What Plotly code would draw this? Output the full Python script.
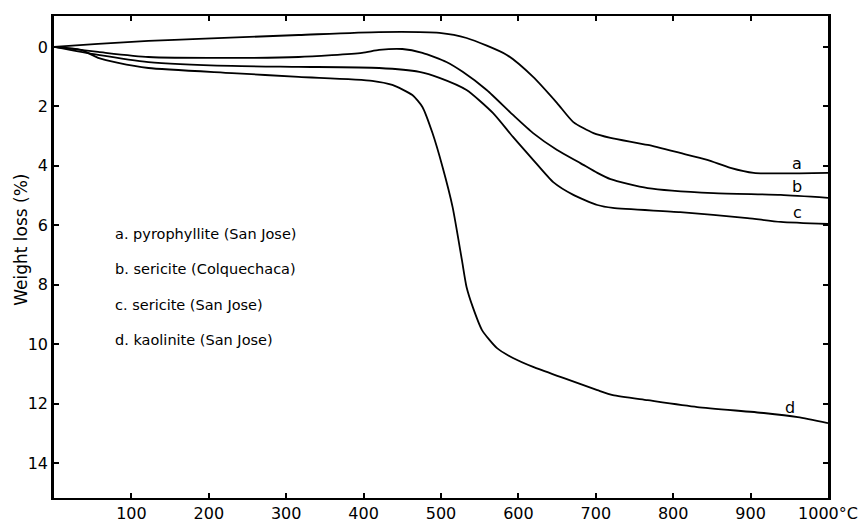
import plotly.graph_objects as go

# Thermogravimetric curves: temperature (°C) vs. weight loss (%)
temp_a = [0, 57, 122, 187, 316, 420, 498, 533, 585, 619, 650, 671, 697, 719, 767, 809, 844, 874, 904, 1000]
loss_a = [0, -0.10, -0.20, -0.27, -0.40, -0.50, -0.47, -0.30, 0.27, 1.01, 1.89, 2.53, 2.90, 3.06, 3.30, 3.57, 3.80, 4.07, 4.24, 4.24]

temp_b = [0, 57, 122, 230, 316, 398, 420, 450, 476, 507, 528, 559, 593, 619, 650, 680, 702, 719, 767, 852, 939, 1000]
loss_b = [0, 0.17, 0.34, 0.37, 0.34, 0.20, 0.10, 0.07, 0.20, 0.51, 0.84, 1.45, 2.29, 2.90, 3.47, 3.91, 4.24, 4.45, 4.75, 4.92, 4.98, 5.08]

temp_c = [0, 57, 122, 230, 316, 420, 472, 498, 533, 567, 593, 619, 645, 671, 702, 722, 809, 896, 939, 1000]
loss_c = [0, 0.27, 0.51, 0.64, 0.67, 0.71, 0.84, 1.04, 1.45, 2.22, 3.03, 3.80, 4.55, 4.98, 5.32, 5.42, 5.56, 5.76, 5.89, 5.96]

temp_d = [0, 35, 57, 83, 122, 230, 316, 411, 437, 463, 476, 489, 502, 515, 527, 533, 541, 553, 572,
          593, 619, 658, 702, 722, 767, 831, 917, 961, 1000]
loss_d = [0, 0.10, 0.37, 0.54, 0.71, 0.88, 1.01, 1.14, 1.28, 1.62, 2.02, 2.90, 4.04, 5.39, 7.17, 8.08, 8.75, 9.53, 10.13,
          10.47, 10.77, 11.14, 11.55, 11.72, 11.89, 12.12, 12.32, 12.46, 12.66]

curve_keys = ["a", "b", "c", "d"]
sample_names = ["a. pyrophyllite (San Jose)", "b. sericite (Colquechaca)",
                "c. sericite (San Jose)", "d. kaolinite (San Jose)"]
x_ticks = [100, 200, 300, 400, 500, 600, 700, 800, 900, 1000]
x_tick_labels = ["100", "200", "300", "400", "500", "600", "700", "800", "900", "1000°C"]
y_ticks = [0, 2, 4, 6, 8, 10, 12, 14]

series = [(temp_a, loss_a), (temp_b, loss_b), (temp_c, loss_c), (temp_d, loss_d)]

FONT = "DejaVu Sans"
fig = go.Figure()
for key, (t, w) in zip(curve_keys, series):
    fig.add_trace(go.Scatter(x=t, y=w, mode="lines", name=key,
                             line=dict(color="black", width=1.8, shape="spline", smoothing=0.6),
                             showlegend=False))

# Curve letters at the right-hand ends
end_labels = [(960, 3.94, "a"), (960, 4.71, "b"), (960, 5.56, "c"), (951, 12.12, "d")]
for tx, wy, txt in end_labels:
    fig.add_annotation(x=tx, y=wy, text=txt, showarrow=False, xref="x", yref="y",
                       font=dict(family=FONT, size=16, color="black"))

# Key listing the samples
for i, name in enumerate(sample_names):
    fig.add_annotation(x=0.076, y=0.548 - i * 0.0735, xref="paper", yref="paper",
                       text=name, showarrow=False, xanchor="left", yanchor="middle",
                       font=dict(family=FONT, size=14.5, color="black"))

# Axis title
fig.add_annotation(x=-0.043, y=0.535, xref="paper", yref="paper", text="Weight loss (%)",
                   textangle=-90, showarrow=False, xanchor="center", yanchor="middle",
                   font=dict(family=FONT, size=17, color="black"))

fig.update_xaxes(range=[0, 1000], tickvals=x_ticks, ticktext=x_tick_labels,
                 ticks="inside", ticklen=5, tickwidth=1.5,
                 tickcolor="black", showline=True, linecolor="black", linewidth=2, mirror="ticks",
                 showgrid=False, zeroline=False, automargin=False,
                 tickfont=dict(family=FONT, size=16, color="black"))
fig.update_yaxes(range=[15.18, -1.04], tickvals=y_ticks, ticks="inside", ticklen=5, tickwidth=1.5,
                 tickcolor="black", showline=True, linecolor="black", linewidth=2.5, mirror="ticks",
                 showgrid=False, zeroline=False, automargin=False,
                 tickfont=dict(family=FONT, size=16, color="black"))

fig.update_layout(width=865, height=524, margin=dict(l=54, r=37, t=16, b=26),
                  paper_bgcolor="white", plot_bgcolor="white")

fig.write_html("out.html")
